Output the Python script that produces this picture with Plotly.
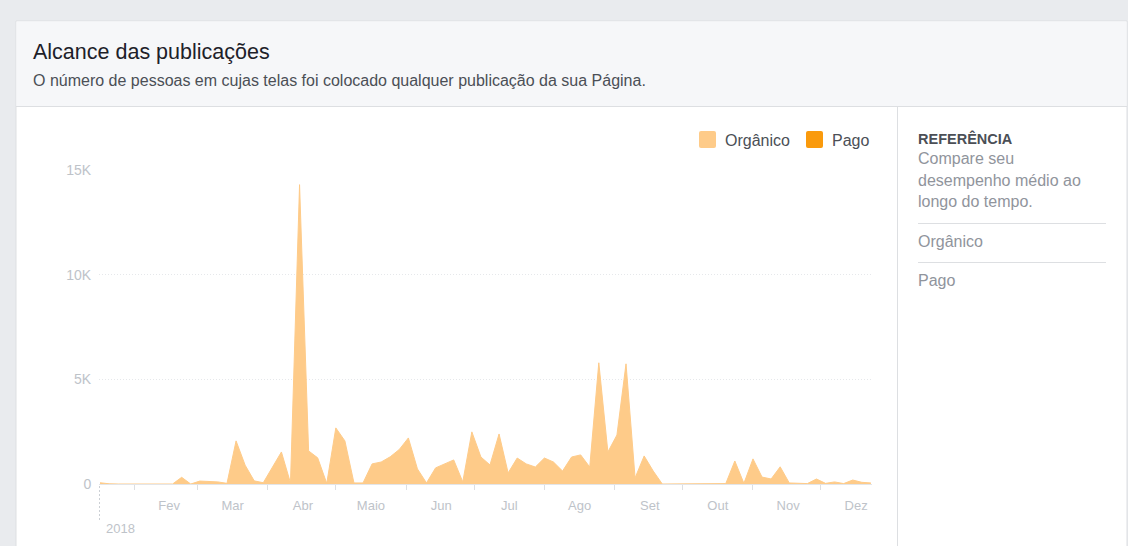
import pandas as pd
import plotly.graph_objects as go

# ---- data ----
start_date = "2018-01-17"
step = "4D"
organico = [60, 10, 0, 0, 0, 0, 0, 0, 0, 320,
            0, 140, 110, 100, 30, 2060, 900, 150, 60, 780,
            1530, 50, 14300, 1580, 1250, 30, 2680, 2060, 50, 50,
            960, 1050, 1300, 1650, 2200, 720, 50, 770, 960, 1150,
            100, 2490, 1290, 910, 2390, 530, 1240, 960, 810, 1240,
            1050, 620, 1290, 1390, 810, 5790, 1530, 2340, 5740, 290,
            1340, 620, 0, 0, 0, 0, 10, 30, 30, 20,
            1100, 30, 1200, 330, 240, 820, 50, 20, 20, 240,
            30, 100, 20, 190, 80, 50]
pago = [0] * len(organico)
dates = pd.date_range(start_date, periods=len(organico), freq=step)

month_labels = ["Fev", "Mar", "Abr", "Maio", "Jun", "Jul", "Ago", "Set", "Out", "Nov", "Dez"]
month_starts = pd.date_range("2018-02-01", periods=len(month_labels), freq="MS")
label_pos = [d + pd.Timedelta(days=15, hours=12) for d in month_starts]
y_tickvals = [0, 5000, 10000, 15000]
y_ticktext = ["0", "5K", "10K", "15K"]

# ---- layout geometry (pixels) ----
W, H = 1128, 546
L, R = 99, 872
T, B = 170, 484
PW, PH = R - L, B - T

def px(x):
    return (x - L) / PW

def py(y):
    return (B - y) / PH

FONT = "Liberation Sans, Arial, Helvetica, sans-serif"
C_ORG = "#FECB89"
C_PAGO = "#FA9A0C"

fig = go.Figure()
fig.add_trace(go.Scatter(x=dates, y=pago, stackgroup="one", mode="lines",
                         line=dict(width=0, color=C_PAGO), fillcolor=C_PAGO,
                         showlegend=False, hoverinfo="skip"))
fig.add_trace(go.Scatter(x=dates, y=organico, stackgroup="one", mode="lines",
                         line=dict(width=1, color=C_ORG), fillcolor=C_ORG,
                         showlegend=False))

shapes = []
def rect(x0, y0, x1, y1, fill, line=None, layer="below"):
    shapes.append(dict(type="rect", xref="paper", yref="paper",
                       x0=px(x0), x1=px(x1), y0=py(y1), y1=py(y0),
                       fillcolor=fill, layer=layer,
                       line=dict(width=1 if line else 0, color=line or "rgba(0,0,0,0)")))

def hline(x0, x1, y, color="#dddfe2", dash="solid"):
    shapes.append(dict(type="line", xref="paper", yref="paper",
                       x0=px(x0), x1=px(x1), y0=py(y), y1=py(y),
                       line=dict(width=1, color=color, dash=dash), layer="below"))

def vline(x, y0, y1, color="#dddfe2", dash="solid", layer="below"):
    shapes.append(dict(type="line", xref="paper", yref="paper",
                       x0=px(x), x1=px(x), y0=py(y0), y1=py(y1),
                       line=dict(width=1, color=color, dash=dash), layer=layer))

# card
rect(16, 21, 1127, 560, "#ffffff", "#dddfe2")
rect(16.5, 21.5, 1126.5, 106.5, "#f6f7f9")
hline(16, 1127, 106.5)
vline(897.5, 107, 560)
hline(918, 1106, 223.5)
hline(918, 1106, 262.5)
# 2018 marker
vline(99.5, 486, 522, color="#ccd0d5", dash="2px,2px", layer="above")

# legend boxes (rounded)
def rbox(x0, y0, x1, y1, color, r=2):
    path = (f"M {px(x0+r)},{py(y0)} L {px(x1-r)},{py(y0)} Q {px(x1)},{py(y0)} {px(x1)},{py(y0+r)} "
            f"L {px(x1)},{py(y1-r)} Q {px(x1)},{py(y1)} {px(x1-r)},{py(y1)} "
            f"L {px(x0+r)},{py(y1)} Q {px(x0)},{py(y1)} {px(x0)},{py(y1-r)} "
            f"L {px(x0)},{py(y0+r)} Q {px(x0)},{py(y0)} {px(x0+r)},{py(y0)} Z")
    shapes.append(dict(type="path", xref="paper", yref="paper", path=path,
                       fillcolor=color, line=dict(width=0), layer="above"))

rbox(699, 131, 716, 148, C_ORG)
rbox(806, 131, 823, 148, C_PAGO)

annotations = []
def text(x, y, s, size, color, bold=False, xanchor="left", yanchor="middle"):
    annotations.append(dict(x=px(x), y=py(y), xref="paper", yref="paper", text=f"<b>{s}</b>" if bold else s,
                            showarrow=False, xanchor=xanchor, yanchor=yanchor,
                            font=dict(family=FONT, size=size, color=color)))

text(31, 52, "Alcance das publicações", 21.5, "#1d2129")
text(31, 80, "O número de pessoas em cujas telas foi colocado qualquer publicação da sua Página.", 16, "#4b4f56")
text(723, 140, "Orgânico", 16, "#4b4f56")
text(830, 140, "Pago", 16, "#4b4f56")
text(916, 138, "REFERÊNCIA", 14.5, "#4b4f56", bold=True)
text(916, 159, "Compare seu", 16, "#90949c")
text(916, 180, "desempenho médio ao", 16, "#90949c")
text(916, 201, "longo do tempo.", 16, "#90949c")
text(916, 241, "Orgânico", 16, "#90949c")
text(916, 280, "Pago", 16, "#90949c")
text(104, 528, "2018", 13, "#bec3c9")

fig.update_layout(
    width=W, height=H,
    margin=dict(l=L, r=W - R, t=T, b=H - B, pad=0),
    paper_bgcolor="#e9ebee",
    plot_bgcolor="rgba(0,0,0,0)",
    showlegend=False,
    shapes=shapes,
    annotations=annotations,
    font=dict(family=FONT),
    xaxis=dict(
        type="date",
        range=["2018-01-16 13:00", "2018-12-23 12:00"],
        tickmode="array", tickvals=label_pos, ticktext=month_labels,
        ticks="outside", ticklen=9, tickcolor="rgba(0,0,0,0)",
        tickfont=dict(size=13, color="#bec3c9", family=FONT),
        showgrid=False, zeroline=False,
        showline=True, linecolor="#e3e5e8", linewidth=1,
        minor=dict(tickmode="array", tickvals=list(month_starts), ticks="outside",
                   ticklen=5, tickcolor="#dddfe2", tickwidth=1, showgrid=False),
        fixedrange=True,
    ),
    yaxis=dict(
        range=[0, 15000],
        tickmode="array", tickvals=y_tickvals, ticktext=y_ticktext,
        ticks="outside", ticklen=4, tickcolor="rgba(0,0,0,0)",
        tickfont=dict(size=14, color="#bec3c9", family=FONT),
        showgrid=True, gridcolor="#e6e8eb", griddash="1px,2px", gridwidth=1,
        zeroline=False, showline=False,
        fixedrange=True,
    ),
)

fig.write_html("out.html", config={"displayModeBar": False},
               post_script="document.body.style.margin='0';document.body.style.overflow='hidden';")
